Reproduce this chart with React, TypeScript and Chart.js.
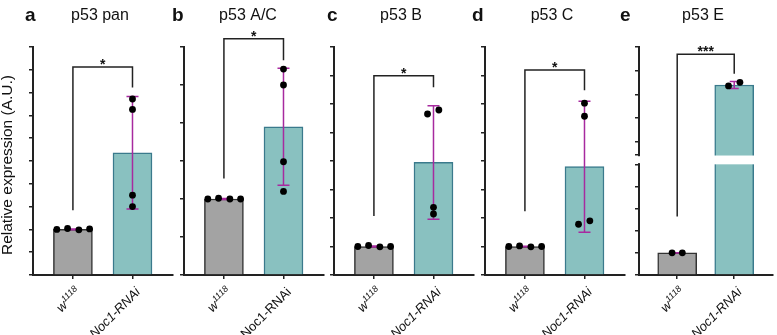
import React, { useEffect, useRef } from 'react';
import { Chart, registerables } from 'chart.js';

Chart.register(...registerables);

// ---------------- data ----------------
const CATEGORIES = ['w1118', 'Noc1-RNAi'];
const CATEGORY_BASE = ['w', 'Noc1-RNAi'];
const CATEGORY_SUP = ['1118', ''];
const PANEL_LETTERS = ['a', 'b', 'c', 'd', 'e'];
const PANEL_TITLES = ['p53 pan', 'p53 A/C', 'p53 B', 'p53 C', 'p53 E'];
const Y_TITLE = 'Relative expression (A.U.)';

// bar heights (means) and SD error bars
const W1118_MEANS = [1.0, 1.0, 1.0, 1.0, 1.0];
const W1118_SDS = [0.01, 0.005, 0.02, 0.01, 0.005];
const NOC1_MEANS = [2.68, 1.95, 3.95, 3.8, 44.0];
const NOC1_SDS = [1.235, 0.77, 1.99, 2.3, 1.5];

// individual replicates
const W1118_DOTS_A = [1.0, 1.02, 0.99, 1.01];
const NOC1_DOTS_A = [3.86, 3.63, 1.75, 1.5];
const W1118_DOTS_B = [1.0, 1.01, 1.0, 1.0];
const NOC1_DOTS_B = [2.71, 2.5, 1.49, 1.1];
const W1118_DOTS_C = [1.0, 1.035, 0.99, 1.0];
const NOC1_DOTS_C = [5.65, 5.79, 2.375, 2.14];
const W1118_DOTS_D = [1.0, 1.02, 0.99, 1.0];
const NOC1_DOTS_D = [6.03, 5.57, 1.78, 1.9];
const W1118_DOTS_E = [1.0, 1.0];
const NOC1_DOTS_E = [43.6, 45.1];

// horizontal spread of replicate dots (category units)
const W1118_JITTER_4 = [-0.27, -0.09, 0.1, 0.28];
const W1118_JITTER_2 = [-0.09, 0.09];
const NOC1_JITTER_A = [0, 0, 0, 0];
const NOC1_JITTER_B = [0, 0, 0, 0];
const NOC1_JITTER_C = [-0.1, 0.09, 0, 0];
const NOC1_JITTER_D = [0, 0, -0.1, 0.09];
const NOC1_JITTER_E = [-0.1, 0.1];

// y axes (tick marks only, no labels)
const Y_TICKS_A = [0, 0.5, 1, 1.5, 2, 2.5, 3, 3.5, 4, 4.5, 5];
const Y_TICKS_B = [0, 0.5, 1, 1.5, 2, 2.5, 3];
const Y_TICKS_C = [0, 1, 2, 3, 4, 5, 6, 7, 8];
const Y_TICKS_D = [0, 1, 2, 3, 4, 5, 6, 7, 8];
const Y_TICKS_E = [0, 1, 2, 3, 4, 5, 14.5, 20, 30, 40, 50, 60];
const Y_MAX = [5, 3, 8, 8, 60];

// broken axis of panel e
const E_LOWER_MAX = 5;
const E_UPPER_MIN = 14.5;
const E_GAP = 0.42;
const E_UPPER_SCALE = 0.10725;

// significance brackets
const BRACKET_TOPS = [4.56, 3.11, 6.99, 7.19, 56.9];
const BRACKET_LEFT_ENDS = [1.42, 1.27, 2.07, 2.24, 2.64];
const BRACKET_RIGHT_ENDS = [4.11, 2.825, 6.59, 6.48, 48.7];
const SIGNIFICANCE = ['*', '*', '*', '*', '***'];
const NOC1_ITALIC = [true, false, true, true, true];

// ---------------- layout / style ----------------
const W = 777;
const H = 335;
const AXIS_X = [33, 184, 334, 485, 639];
const LETTER_X = [25, 172, 327, 472, 620];
const TITLE_X = [100, 248, 401, 552, 703];
const PLOT_TOP = 47;
const PLOT_BOTTOM = 275;
const PLOT_W = 140;
const TICK_LEN = 5;
const FONT = '"Liberation Sans", Arial, Helvetica, sans-serif';
const AXIS_COLOR = '#222222';
const ERR_COLOR = '#a72a9f';
const BAR_FILL = ['#a3a3a3', '#89c1c0'];
const BAR_BORDER = ['#333333', '#3a7a8c'];

const W1118_DOTS = [W1118_DOTS_A, W1118_DOTS_B, W1118_DOTS_C, W1118_DOTS_D, W1118_DOTS_E];
const NOC1_DOTS = [NOC1_DOTS_A, NOC1_DOTS_B, NOC1_DOTS_C, NOC1_DOTS_D, NOC1_DOTS_E];
const W1118_JITTER = [W1118_JITTER_4, W1118_JITTER_4, W1118_JITTER_4, W1118_JITTER_4, W1118_JITTER_2];
const NOC1_JITTER = [NOC1_JITTER_A, NOC1_JITTER_B, NOC1_JITTER_C, NOC1_JITTER_D, NOC1_JITTER_E];
const Y_TICKS = [Y_TICKS_A, Y_TICKS_B, Y_TICKS_C, Y_TICKS_D, Y_TICKS_E];

Chart.defaults.font.family = FONT;

const eMap = (v: number) =>
  v <= E_LOWER_MAX ? v : E_LOWER_MAX + E_GAP + (v - E_UPPER_MIN) * E_UPPER_SCALE;
const identity = (v: number) => v;

function drawCategoryLabel(ctx: CanvasRenderingContext2D, base: string, sup: string, italic: boolean, x: number, y: number) {
  ctx.save();
  ctx.translate(x, y);
  ctx.rotate(-Math.PI / 4);
  const mainFont = `${italic ? 'italic ' : ''}13px ${FONT}`;
  const supFont = `${italic ? 'italic ' : ''}9px ${FONT}`;
  ctx.font = supFont;
  const ws = sup ? ctx.measureText(sup).width : 0;
  ctx.font = mainFont;
  const wm = ctx.measureText(base).width;
  ctx.fillStyle = '#111';
  ctx.textAlign = 'left';
  ctx.textBaseline = 'alphabetic';
  ctx.fillText(base, -(wm + ws), 4);
  if (sup) {
    ctx.font = supFont;
    ctx.fillText(sup, -ws, -1);
  }
  ctx.restore();
}

function buildConfig(i: number): any {
  const isE = i === 4;
  const map = isE ? eMap : identity;
  const dots = [
    ...W1118_DOTS[i].map((v, j) => ({ x: W1118_JITTER[i][j], y: map(v) })),
    ...NOC1_DOTS[i].map((v, j) => ({ x: 1 + NOC1_JITTER[i][j], y: map(v) })),
  ];
  const means = [W1118_MEANS[i], NOC1_MEANS[i]];
  const sds = [W1118_SDS[i], NOC1_SDS[i]];

  const deco = {
    id: 'deco' + i,
    afterDatasetDraw(chart: any, args: any) {
      if (args.index !== 1) return;
      const ctx: CanvasRenderingContext2D = chart.ctx;
      const xs = chart.scales.x;
      const ys = chart.scales.y;
      ctx.save();
      if (isE) {
        const bar = chart.getDatasetMeta(1).data[1];
        const yHi = ys.getPixelForValue(map(E_UPPER_MIN));
        const yLo = ys.getPixelForValue(E_LOWER_MAX);
        ctx.fillStyle = '#ffffff';
        ctx.fillRect(bar.x - bar.width / 2 - 1, yHi + 0.5, bar.width + 2, yLo - yHi - 0.5);
      }
      ctx.strokeStyle = ERR_COLOR;
      ctx.lineWidth = 1.5;
      const cap = isE ? 4.5 : 6;
      for (let k = 0; k < 2; k++) {
        const cx = xs.getPixelForValue(k);
        const yT = ys.getPixelForValue(map(means[k] + sds[k]));
        const yB = ys.getPixelForValue(map(means[k] - sds[k]));
        ctx.beginPath();
        ctx.moveTo(cx, yT);
        ctx.lineTo(cx, yB);
        ctx.moveTo(cx - cap, yT);
        ctx.lineTo(cx + cap, yT);
        ctx.moveTo(cx - cap, yB);
        ctx.lineTo(cx + cap, yB);
        ctx.stroke();
      }
      ctx.restore();
    },
    afterDraw(chart: any) {
      const ctx: CanvasRenderingContext2D = chart.ctx;
      const xs = chart.scales.x;
      const ys = chart.scales.y;
      const area = chart.chartArea;
      ctx.save();
      if (isE) {
        const yHi = ys.getPixelForValue(map(E_UPPER_MIN));
        const yLo = ys.getPixelForValue(E_LOWER_MAX);
        ctx.fillStyle = '#ffffff';
        ctx.fillRect(area.left - 2, yHi + 1.2, 4, yLo - yHi - 2.4);
      }
      // bracket
      const x0 = xs.getPixelForValue(0);
      const x1 = xs.getPixelForValue(1);
      const yTop = ys.getPixelForValue(map(BRACKET_TOPS[i]));
      ctx.strokeStyle = AXIS_COLOR;
      ctx.lineWidth = 1.5;
      ctx.beginPath();
      ctx.moveTo(x0, ys.getPixelForValue(map(BRACKET_LEFT_ENDS[i])));
      ctx.lineTo(x0, yTop);
      ctx.lineTo(x1, yTop);
      ctx.lineTo(x1, ys.getPixelForValue(map(BRACKET_RIGHT_ENDS[i])));
      ctx.stroke();
      ctx.fillStyle = '#111';
      ctx.font = `bold 14px ${FONT}`;
      ctx.textAlign = 'center';
      ctx.textBaseline = 'alphabetic';
      ctx.fillText(SIGNIFICANCE[i], (x0 + x1) / 2, yTop + 2);
      // title and panel letter
      ctx.font = `16px ${FONT}`;
      ctx.fillText(PANEL_TITLES[i], TITLE_X[i], 20);
      ctx.font = `bold 19px ${FONT}`;
      ctx.textAlign = 'left';
      ctx.fillText(PANEL_LETTERS[i], LETTER_X[i], 21);
      // category labels
      for (let k = 0; k < CATEGORIES.length; k++) {
        const italic = k === 0 ? true : NOC1_ITALIC[i];
        drawCategoryLabel(ctx, CATEGORY_BASE[k], CATEGORY_SUP[k], italic, xs.getPixelForValue(k) + 5.5, area.bottom + 15);
      }
      // y axis title
      if (i === 0) {
        ctx.save();
        ctx.translate(12, (area.top + area.bottom) / 2 + 4);
        ctx.rotate(-Math.PI / 2);
        ctx.font = `15.5px ${FONT}`;
        ctx.textAlign = 'center';
        ctx.textBaseline = 'alphabetic';
        ctx.fillStyle = '#111';
        ctx.fillText(Y_TITLE, 0, 0);
        ctx.restore();
      }
      ctx.restore();
    },
  };

  const right = Math.max(0, W - AXIS_X[i] - PLOT_W);

  return {
    type: 'bar',
    data: {
      datasets: [
        {
          type: 'scatter',
          data: dots,
          backgroundColor: '#000',
          borderColor: '#000',
          pointRadius: 3.4,
          pointBorderWidth: 0,
          order: 0,
        },
        {
          type: 'bar',
          data: [
            { x: 0, y: map(means[0]) },
            { x: 1, y: map(means[1]) },
          ],
          backgroundColor: BAR_FILL,
          borderColor: BAR_BORDER,
          borderWidth: 1.5,
          barThickness: 39,
          order: 1,
        },
      ],
    },
    options: {
      animation: false,
      responsive: false,
      events: [],
      layout: {
        padding: {
          left: AXIS_X[i] - TICK_LEN,
          right,
          top: PLOT_TOP,
          bottom: H - PLOT_BOTTOM - TICK_LEN,
        },
      },
      scales: {
        x: {
          type: 'linear',
          offset: false,
          min: -0.67,
          max: 1.68,
          afterBuildTicks: (s: any) => {
            s.ticks = CATEGORIES.map((_, k) => ({ value: k }));
          },
          afterFit: (s: any) => {
            s.height = TICK_LEN;
          },
          ticks: { display: false },
          grid: { offset: false, drawOnChartArea: false, tickLength: 4, color: AXIS_COLOR, lineWidth: 1.5 },
          border: { color: AXIS_COLOR, width: 2 },
        },
        y: {
          type: 'linear',
          min: 0,
          max: map(Y_MAX[i]),
          afterBuildTicks: (s: any) => {
            s.ticks = Y_TICKS[i].map((v) => ({ value: map(v) }));
          },
          afterFit: (s: any) => {
            s.width = TICK_LEN;
          },
          ticks: { display: false },
          grid: { drawOnChartArea: false, tickLength: 4, color: AXIS_COLOR, lineWidth: 1.5 },
          border: { color: AXIS_COLOR, width: 2 },
        },
      },
      plugins: {
        legend: { display: false },
        tooltip: { enabled: false },
        title: { display: false },
      },
    },
    plugins: [deco],
  };
}

export default function App() {
  const refs = useRef<(HTMLCanvasElement | null)[]>([]);
  useEffect(() => {
    const charts = PANEL_TITLES.map((_, i) => new Chart(refs.current[i] as HTMLCanvasElement, buildConfig(i)));
    return () => {
      charts.forEach((c) => c.destroy());
    };
  }, []);
  return (
    <div style={{ position: 'absolute', left: 0, top: 0, width: W, height: H, background: '#ffffff', overflow: 'hidden' }}>
      {PANEL_TITLES.map((_, i) => (
        <canvas
          key={i}
          ref={(el) => {
            refs.current[i] = el;
          }}
          width={W}
          height={H}
          style={{ position: 'absolute', left: 0, top: 0, width: W, height: H }}
        />
      ))}
    </div>
  );
}
